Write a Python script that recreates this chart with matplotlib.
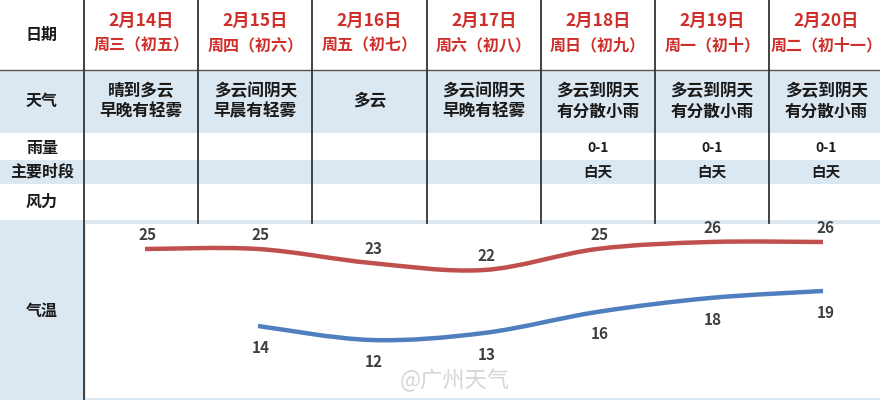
import numpy as np
import matplotlib
matplotlib.use("Agg")
import matplotlib.pyplot as plt
from matplotlib.path import Path
from matplotlib.patches import Rectangle, PathPatch

plt.rcParams['font.family'] = ['Noto Sans CJK SC', 'DejaVu Sans']

# 数据
dates = ['2月14日', '2月15日', '2月16日', '2月17日', '2月18日', '2月19日', '2月20日']
weekdays = ['周三（初五）', '周四（初六）', '周五（初七）', '周六（初八）',
            '周日（初九）', '周一（初十）', '周二（初十一）']
weather = ['晴到多云\n早晚有轻雾', '多云间阴天\n早晨有轻雾', '多云', '多云间阴天\n早晚有轻雾',
           '多云到阴天\n有分散小雨', '多云到阴天\n有分散小雨', '多云到阴天\n有分散小雨']
rain = ['', '', '', '', '0-1', '0-1', '0-1']
period = ['', '', '', '', '白天', '白天', '白天']
row_labels = ['日期', '天气', '雨量', '主要时段', '风力', '气温']
high = [25, 25, 23, 22, 25, 26, 26]
low = [np.nan, 14, 12, 13, 16, 18, 19]

RED = '#cf2f2a'
BLUE_BG = '#dce8f1'
TXT = '#1a1a1a'

fig = plt.figure(figsize=(8.8, 4.0), dpi=100)
bg = fig.add_axes([0, 0, 1, 1])
bg.set_xlim(0, 880)
bg.set_ylim(400, 0)
bg.set_axis_off()

# 行底色
bg.add_patch(Rectangle((0, 71), 880, 62, color=BLUE_BG, lw=0))
bg.add_patch(Rectangle((0, 160), 880, 24, color=BLUE_BG, lw=0))
bg.add_patch(Rectangle((0, 220), 880, 180, color=BLUE_BG, lw=0))

# 表格线
bg.plot([0, 880], [70, 70], color='#555555', lw=1.0)
col_x = [84 + 114.2 * i for i in range(7)]
bg.plot([col_x[0], col_x[0]], [0, 400], color='#333333', lw=1.3)
for x in col_x[1:]:
    bg.plot([x, x], [0, 223], color='#333333', lw=1.3)

# 左侧标题
label_y = [35, 101, 148, 172, 202, 311]
for lab, y in zip(row_labels, label_y):
    bg.text(42, y, lab, ha='center', va='center', fontsize=11.5, fontweight='bold', color=TXT)

centers = [x + 57.1 for x in col_x]
for i, cx in enumerate(centers):
    bg.text(cx, 21, dates[i], ha='center', va='center', fontsize=12.5, fontweight='bold', color=RED)
    bg.text(cx, 45, weekdays[i], ha='center', va='center', fontsize=11.5, fontweight='bold', color=RED)
    bg.text(cx, 101, weather[i], ha='center', va='center', fontsize=12, fontweight='bold',
            color=TXT, linespacing=1.2)
    bg.text(cx, 148, rain[i], ha='center', va='center', fontsize=10, fontweight='bold', color=TXT)
    bg.text(cx, 172, period[i], ha='center', va='center', fontsize=10.5, fontweight='bold', color=TXT)

# 气温曲线
ax = fig.add_axes([86 / 880, 2 / 400, 794 / 880, 174 / 400])
ax.set_facecolor('white')
ax.set_xlim(-0.522, 6.504)
ax.set_ylim(3.714, 28.571)
for s in ax.spines.values():
    s.set_visible(False)
ax.set_xticks([])
ax.set_yticks([])


def smooth_path(xs, ys):
    pts = np.column_stack([xs, ys])
    verts = [pts[0]]
    codes = [Path.MOVETO]
    n = len(pts)
    for i in range(n - 1):
        p0 = pts[max(i - 1, 0)]
        p1 = pts[i]
        p2 = pts[i + 1]
        p3 = pts[min(i + 2, n - 1)]
        c1 = p1 + (p2 - p0) / 6.0
        c2 = p2 - (p3 - p1) / 6.0
        verts += [c1, c2, p2]
        codes += [Path.CURVE4] * 3
    return Path(verts, codes)


def draw_series(vals, color, dy):
    xs = np.array([i for i, v in enumerate(vals) if not np.isnan(v)], dtype=float)
    ys = np.array([v for v in vals if not np.isnan(v)], dtype=float)
    ax.add_patch(PathPatch(smooth_path(xs, ys), facecolor='none', edgecolor=color,
                           lw=3.2, capstyle='butt'))
    for x, y in zip(xs, ys):
        ax.annotate(f'{int(y)}', (x, y), xytext=(2, dy), textcoords='offset points',
                    ha='center', va='center', fontsize=11, fontweight='bold', color='#404040')


draw_series(high, '#c0504d', 10)
draw_series(low, '#4f7fbf', -16)

# 水印
fig.text(400 / 880, 1 - 380 / 400, '@广州天气', ha='left', va='center', fontsize=16,
         color='#d6d6d6')

fig.savefig('out.png', dpi=100)
